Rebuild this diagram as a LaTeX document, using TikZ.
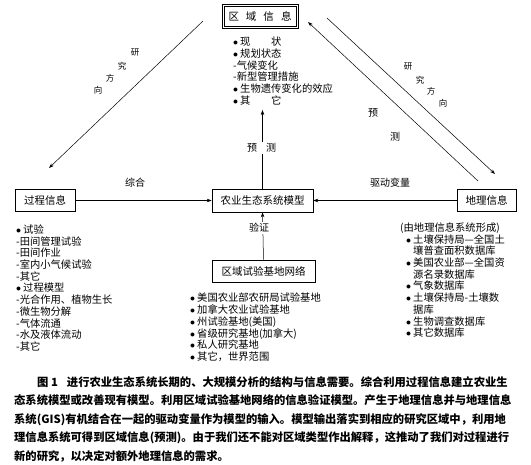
\documentclass[tikz,border=0pt]{standalone}
\usepackage{fontspec}
\setmainfont{Noto Sans CJK SC}
\usepackage{tikz}
\usetikzlibrary{arrows.meta,positioning,calc}

\tikzset{
  box/.style={draw, line width=0.6pt, inner sep=0pt, minimum height=22pt,
    font=\fontsize{10.5}{12}\selectfont},
  conn/.style={-{Stealth[length=5pt,width=3.5pt]}, line width=0.5pt},
  lst/.style={anchor=north west, inner sep=0pt, align=left,
    font=\fontsize{10.3}{11.7}\selectfont},
  lbl/.style={inner sep=1pt, font=\fontsize{10}{12}\selectfont},
  dlbl/.style={inner sep=0pt, font=\fontsize{8.5}{10}\selectfont},
}

\begin{document}
\begin{tikzpicture}[x=1pt, y=-1pt]
    \useasboundingbox (0,0) rectangle (531,464);

    % boxes
    \node[box, minimum width=76pt, minimum height=24pt] (regional) at (260,16)
        {区\hskip7pt 域\hskip7pt 信\hskip7pt 息};
    \draw[line width=0.5pt] ($(regional.north west)+(2.5,2.5)$) rectangle ($(regional.south east)+(-2.5,-2.5)$);
    \node[box, minimum width=60pt] (process) at (45,200.5) {过程信息};
    \node[box, minimum width=101pt, minimum height=23pt] (model) at (262.5,200.5) {农业生态系统模型};
    \node[box, minimum width=59pt] (geo) at (486.5,200.5) {地理信息};
    \node[box, minimum width=103pt] (network) at (263.5,271) {区域试验基地网络};

    % free ends of the diagonals
    \coordinate (leftTop) at (203,21);
    \coordinate (leftEnd) at (49,168);
    \coordinate (rOutTop) at (327,18);
    \coordinate (rOutEnd) at (495,174);
    \coordinate (rInStart) at (478,181);
    \coordinate (rInEnd) at (308,22);
    \coordinate (predTop) at (262.5,110);

    % connectors
    \draw[conn] (leftTop) -- (leftEnd);
    \draw[conn] (rOutTop) -- (rOutEnd);
    \draw[conn] (rInStart) -- (rInEnd);
    \draw[conn] (model.north) -- (predTop);
    \draw[conn] (process.east) -- (model.west);
    \draw[conn] (geo.west) -- (model.east);
    \draw[conn] (network.north) -- (model.south);

    % labels
    \node[lbl, fill=white] (predLbl) at (261.5,148) {预\hskip9pt 测};
    \node[lbl, fill=white] (verifyLbl) at (259,228) {验证};
    \node[lbl] (synthLbl) at (135,183) {综合};
    \node[lbl] (driveLbl) at (390,183) {驱动变量};
    \node[lbl] (predRLbl1) at (373,113) {预};
    \node[lbl] (predRLbl2) at (395,137) {测};
    \foreach \ch/\px/\py [count=\i] in {研/135/53, 究/122/66, 方/110/78, 向/98/90}
        \node[dlbl] (resL\i) at (\px,\py) {\ch};
    \foreach \ch/\px/\py [count=\i] in {研/408/67, 究/420/80, 方/431/91, 向/443/103}
        \node[dlbl] (resR\i) at (\px,\py) {\ch};

    % lists
    \node[lst] (regionalList) at (233,37) {%
        $\bullet$\hskip2pt 现　　状\\
        $\bullet$\hskip2pt 规划状态\\
        -气候变化\\
        -新型管理措施\\
        $\bullet$\hskip2pt 生物遗传变化的效应\\
        $\bullet$\hskip2pt 其　　它};
    \node[lst] (processList) at (16,224.5) {%
        $\bullet$\hskip2pt 试验\\
        -田间管理试验\\
        -田间作业\\
        -室内小气候试验\\
        -其它\\
        $\bullet$\hskip2pt 过程模型\\
        -光合作用、植物生长\\
        -微生物分解\\
        -气体流通\\
        -水及液体流动\\
        -其它};
    \node[lst] (networkList) at (190,293) {%
        $\bullet$\hskip2pt 美国农业部农研局试验基地\\
        $\bullet$\hskip2pt 加拿大农业试验基地\\
        $\bullet$\hskip2pt 州试验基地(美国)\\
        $\bullet$\hskip2pt 省级研究基地(加拿大)\\
        $\bullet$\hskip2pt 私人研究基地\\
        $\bullet$\hskip2pt 其它，世界范围};
    \node[lst] (geoList) at (400,222.5) {%
        (由地理信息系统形成)\\
        \hspace*{6pt}$\bullet$\hskip2pt 土壤保持局—全国土\\
        \hspace*{13pt}壤普查面积数据库\\
        \hspace*{6pt}$\bullet$\hskip2pt 美国农业部—全国资\\
        \hspace*{13pt}源名录数据库\\
        \hspace*{6pt}$\bullet$\hskip2pt 气象数据库\\
        \hspace*{6pt}$\bullet$\hskip2pt 土壤保持局-土壤数\\
        \hspace*{13pt}据库\\
        \hspace*{6pt}$\bullet$\hskip2pt 生物调查数据库\\
        \hspace*{6pt}$\bullet$\hskip2pt 其它数据库};

    % caption
    \node[anchor=north west, inner sep=0pt, align=left, font=\fontsize{11.3}{18.5}\selectfont\bfseries] (caption) at (14,376) {%
        \hspace*{23pt}图 1\hspace{9pt}进行农业生态系统长期的、大规模分析的结构与信息需要。综合利用过程信息建立农业生\\
        态系统模型或改善现有模型。利用区域试验基地网络的信息验证模型。产生于地理信息并与地理信息\\
        系统(GIS)有机结合在一起的驱动变量作为模型的输入。模型输出落实到相应的研究区域中，利用地\\
        理信息系统可得到区域信息(预测)。由于我们还不能对区域类型作出解释，这推动了我们对过程进行\\
        新的研究，以决定对额外地理信息的需求。};
\end{tikzpicture}
\end{document}
